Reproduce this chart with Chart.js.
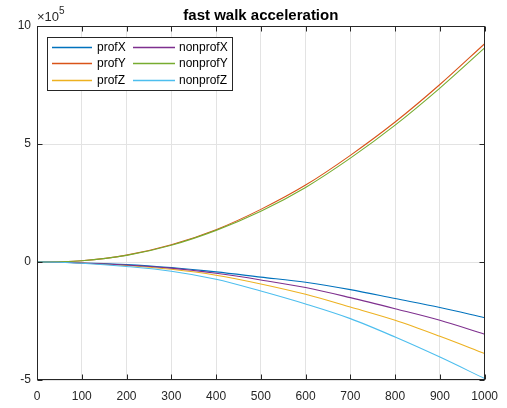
<!DOCTYPE html>
<html><head><meta charset="utf-8">
<script src="https://cdn.jsdelivr.net/npm/chart.js@4.4.0/dist/chart.umd.min.js"></script>
<style>html,body{margin:0;padding:0;background:#fff;}#wrap{width:507px;height:408px;position:relative}</style>
</head><body><div id="wrap"><canvas id="c" width="507" height="408"></canvas></div>
<script>
const titleText = 'fast walk acceleration';
const exponentLabel = ['\u00d710', '5'];
const xValues = [0, 50, 100, 200, 300, 400, 500, 600, 700, 800, 900, 1000];
const xTicks = [0, 100, 200, 300, 400, 500, 600, 700, 800, 900, 1000];
const yTicks = [-500000, 0, 500000, 1000000];
const seriesNames = ['profX', 'profY', 'profZ', 'nonprofX', 'nonprofY', 'nonprofZ'];
const profX    = [0, -1000, -4000, -11000, -24000, -42000, -64000, -86000, -117000, -155000, -193000, -236000];
const profY    = [0, 1000, 5000, 29000, 73000, 137000, 223000, 326000, 452000, 593000, 752000, 925000];
const profZ    = [0, -1000, -4000, -15000, -31000, -56000, -93000, -137000, -191000, -247000, -315000, -388000];
const nonprofX = [0, -1000, -4000, -13000, -26000, -48000, -76000, -108000, -151000, -198000, -247000, -306000];
const nonprofY = [0, 1000, 5000, 28000, 71000, 134000, 215000, 316000, 440000, 580000, 737000, 907000];
const nonprofZ = [0, -1000, -5000, -19000, -39000, -73000, -123000, -178000, -240000, -318000, -403000, -494000];
const seriesValues = [profX, profY, profZ, nonprofX, nonprofY, nonprofZ];
const seriesColors = ['#0072BD', '#D95319', '#EDB120', '#7E2F8E', '#77AC30', '#4DBEEE'];

const FONT = '"Liberation Sans", Arial, Helvetica, sans-serif';
const TXT = '#262626';

const datasets = seriesNames.map((n, i) => ({
  label: n,
  data: xValues.map((x, k) => ({x: x, y: seriesValues[i][k]})),
  borderColor: seriesColors[i],
  backgroundColor: seriesColors[i],
  borderWidth: 1.1,
  pointRadius: 0,
  fill: false,
  cubicInterpolationMode: 'monotone',
  order: seriesNames.length - i
}));

const decor = {
  id: 'decor',
  afterDraw(chart) {
    const ctx = chart.ctx, a = chart.chartArea;
    const xs = chart.scales.x, ys = chart.scales.y;
    ctx.save();
    ctx.strokeStyle = TXT; ctx.lineWidth = 1;
    const L = Math.round(a.left) + 0.5, R = Math.round(a.right) - 0.5, T = Math.round(a.top) + 0.5, B = Math.round(a.bottom) - 0.5;
    ctx.strokeRect(L, T, R - L, B - T);
    ctx.beginPath();
    xTicks.forEach(v => {
      const px = Math.round(xs.getPixelForValue(v)) + 0.5;
      ctx.moveTo(px, B); ctx.lineTo(px, B - 5);
      ctx.moveTo(px, T); ctx.lineTo(px, T + 5);
    });
    yTicks.forEach(v => {
      const py = Math.round(ys.getPixelForValue(v)) + 0.5;
      ctx.moveTo(L, py); ctx.lineTo(L + 5, py);
      ctx.moveTo(R, py); ctx.lineTo(R - 5, py);
    });
    ctx.stroke();
    ctx.fillStyle = '#000';
    ctx.font = 'bold 15px ' + FONT;
    ctx.textAlign = 'center'; ctx.textBaseline = 'alphabetic';
    ctx.fillText(titleText, (a.left + a.right) / 2, 20);
    ctx.fillStyle = TXT;
    ctx.textAlign = 'left';
    ctx.font = '13px ' + FONT;
    ctx.fillText(exponentLabel[0], 37, 21);
    const w = ctx.measureText(exponentLabel[0]).width;
    ctx.font = '10px ' + FONT;
    ctx.fillText(exponentLabel[1], 37 + w, 14);
    const bx = 47.5, by = 37.5, bw = 185, bh = 53;
    ctx.fillStyle = '#fff';
    ctx.fillRect(bx, by, bw, bh);
    ctx.strokeStyle = TXT; ctx.lineWidth = 1;
    ctx.strokeRect(bx, by, bw, bh);
    const rows = [47, 63, 80];
    const cols = [{l1: 52, l2: 92, t: 97}, {l1: 133, l2: 175, t: 179}];
    ctx.font = '12px ' + FONT;
    ctx.textBaseline = 'middle';
    seriesNames.forEach((name, i) => {
      const c = cols[Math.floor(i / 3)], y = rows[i % 3];
      ctx.strokeStyle = seriesColors[i]; ctx.lineWidth = 1.3;
      ctx.beginPath(); ctx.moveTo(c.l1, y + 0.5); ctx.lineTo(c.l2, y + 0.5); ctx.stroke();
      ctx.fillStyle = '#000';
      ctx.fillText(name, c.t, y + 1);
    });
    ctx.restore();
  }
};

new Chart(document.getElementById('c'), {
  type: 'line',
  data: {datasets: datasets},
  options: {
    responsive: false, animation: false, devicePixelRatio: 1,
    layout: {padding: {top: 26, right: 21, left: 0, bottom: 0}},
    plugins: {legend: {display: false}, title: {display: false}, tooltip: {enabled: false}},
    scales: {
      x: {
        type: 'linear', min: 0, max: 1000,
        afterBuildTicks: s => { s.ticks = xTicks.map(v => ({value: v})); },
        afterFit: s => { s.height = 28; },
        ticks: {font: {family: FONT, size: 12}, color: TXT, padding: 9, maxRotation: 0, autoSkip: false, callback: v => String(v)},
        grid: {color: '#e3e3e3', drawTicks: false, lineWidth: 1},
        border: {display: false}
      },
      y: {
        type: 'linear', min: -500000, max: 1000000,
        afterBuildTicks: s => { s.ticks = yTicks.map(v => ({value: v})); },
        afterFit: s => { s.width = 37; },
        ticks: {font: {family: FONT, size: 12}, color: TXT, padding: 6, callback: v => String(v / 100000)},
        grid: {color: '#e3e3e3', drawTicks: false, lineWidth: 1},
        border: {display: false}
      }
    }
  },
  plugins: [decor]
});
</script>
</body></html>
